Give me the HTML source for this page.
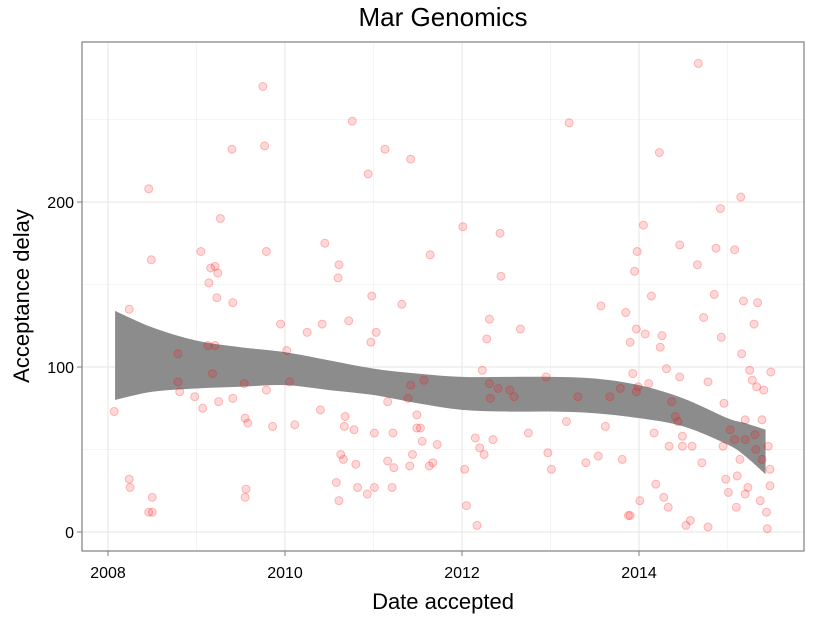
<!DOCTYPE html>
<html><head><meta charset="utf-8"><style>
html,body{margin:0;padding:0;background:#fff;}
svg{display:block;font-family:"Liberation Sans",sans-serif;}
</style></head><body>
<svg id="chart" width="825" height="618">
<rect x="0" y="0" width="825" height="618" fill="#fff"/>
<text x="443" y="26" text-anchor="middle" font-size="26" fill="#000">Mar Genomics</text>
<g id="grid"></g>
<g id="band"></g>
<g id="points"></g>
<rect x="82" y="42" width="722" height="509" fill="none" stroke="#7f7f7f" stroke-width="1.2"/>
<g id="axes"></g>
<text x="443" y="609" text-anchor="middle" font-size="22">Date accepted</text>
<text x="0" y="0" transform="translate(29,296) rotate(-90)" text-anchor="middle" font-size="22">Acceptance delay</text>
</svg>
<script>
const xTicks=[2008,2010,2012,2014];
const xMinor=[2009,2011,2013,2015];
const yTicks=[0,100,200];
const yMinor=[50,150,250];
const bandX=[2008.08,2008.5,2009,2009.5,2010,2010.5,2011,2011.5,2012,2012.5,2013,2013.5,2014,2014.5,2015,2015.2,2015.43];
const bandUpper=[134,124,116,112,109,104,99,96,94,94,94,93,89,81,69,66,62];
const bandLower=[80,85,87,88,89,86,83,78,74,73,73,72,69,64,53,46,35];
const ptYear=[2008.07,2008.24,2008.25,2008.24,2008.46,2008.49,2008.46,2008.5,2008.5,2008.79,2008.79,2008.81,2009.05,2009.07,2008.98,2009.14,2009.16,2009.21,2009.24,2009.23,2009.27,2009.13,2009.21,2009.25,2009.18,2009.4,2009.41,2009.41,2009.54,2009.55,2009.56,2009.55,2009.58,2009.75,2009.77,2009.79,2009.79,2009.86,2009.95,2010.02,2010.05,2010.11,2010.25,2010.4,2010.42,2010.45,2010.58,2010.61,2010.61,2010.6,2010.63,2010.66,2010.68,2010.67,2010.76,2010.72,2010.78,2010.8,2010.82,2010.93,2011.01,2010.94,2010.97,2010.98,2011.03,2011.01,2011.13,2011.16,2011.16,2011.22,2011.23,2011.21,2011.32,2011.39,2011.42,2011.41,2011.42,2011.44,2011.49,2011.49,2011.53,2011.55,2011.57,2011.63,2011.64,2011.67,2011.72,2012.01,2012.03,2012.05,2012.15,2012.17,2012.2,2012.23,2012.25,2012.28,2012.31,2012.31,2012.32,2012.35,2012.43,2012.44,2012.41,2012.54,2012.59,2012.66,2012.75,2012.95,2012.97,2013.01,2013.21,2013.18,2013.31,2013.4,2013.54,2013.57,2013.62,2013.67,2013.79,2013.81,2013.85,2013.88,2013.9,2013.9,2013.93,2013.95,2013.97,2013.98,2013.97,2013.99,2014.01,2014.05,2014.07,2014.11,2014.14,2014.17,2014.19,2014.23,2014.24,2014.26,2014.28,2014.31,2014.33,2014.34,2014.37,2014.41,2014.44,2014.46,2014.49,2014.46,2014.49,2014.53,2014.58,2014.6,2014.66,2014.67,2014.71,2014.73,2014.78,2014.78,2014.85,2014.87,2014.92,2014.93,2014.95,2014.96,2014.98,2015.01,2015.08,2015.11,2015.16,2015.1,2015.15,2015.18,2015.2,2015.2,2015.23,2015.25,2015.28,2015.3,2015.32,2015.33,2015.34,2015.37,2015.39,2015.39,2015.41,2015.44,2015.45,2015.46,2015.48,2015.49,2015.48,2015.08,2015.14,2015.03,2015.2,2015.31];
const ptDelay=[73,32,27,135,208,165,12,12,21,108,91,85,170,75,82,151,160,161,157,142,190,113,113,79,96,232,139,81,90,69,26,21,66,270,234,170,86,64,126,110,91,65,121,74,126,175,30,19,162,154,47,44,70,64,249,128,62,41,27,23,27,217,115,143,121,60,232,79,43,60,39,27,138,81,226,40,89,47,71,63,63,55,92,40,168,42,53,185,38,16,57,4,51,98,47,117,129,90,81,56,181,155,87,86,82,123,60,94,48,38,248,67,82,42,46,137,64,82,87,44,133,10,10,115,96,158,123,170,85,88,19,186,120,90,143,60,29,230,112,119,21,99,15,52,79,70,67,174,58,94,52,4,7,52,162,284,42,130,3,91,144,172,196,118,52,78,32,24,171,34,108,15,203,140,68,23,27,98,92,126,50,88,139,19,44,68,86,12,2,52,38,97,28,56,44,62,56,59];

const NS='http://www.w3.org/2000/svg';
function xS(v){return 108+(v-2008)*88.5;}
function yS(v){return 532-v*1.65;}
function mk(tag,attrs,parent){const e=document.createElementNS(NS,tag);for(const k in attrs)e.setAttribute(k,attrs[k]);parent.appendChild(e);return e;}
function spline(pts,start){
  let d=start?('M'+pts[0][0]+','+pts[0][1]):('L'+pts[0][0]+','+pts[0][1]);
  for(let i=0;i<pts.length-1;i++){
    const p0=pts[Math.max(i-1,0)],p1=pts[i],p2=pts[i+1],p3=pts[Math.min(i+2,pts.length-1)];
    const c1=[p1[0]+(p2[0]-p0[0])/6,p1[1]+(p2[1]-p0[1])/6];
    const c2=[p2[0]-(p3[0]-p1[0])/6,p2[1]-(p3[1]-p1[1])/6];
    d+='C'+c1[0]+','+c1[1]+' '+c2[0]+','+c2[1]+' '+p2[0]+','+p2[1];
  }
  return d;
}
const grid=document.getElementById('grid'),axes=document.getElementById('axes');
xMinor.forEach(v=>{const l=mk('line',{x1:xS(v),x2:xS(v),y1:42,y2:551,stroke:'#f2f2f2','stroke-width':0.8},grid);

});
yMinor.forEach(v=>{const l=mk('line',{x1:82,x2:804,y1:yS(v),y2:yS(v),stroke:'#f2f2f2','stroke-width':0.8},grid);

});
xTicks.forEach(v=>{const l=mk('line',{x1:xS(v),x2:xS(v),y1:42,y2:551,stroke:'#e5e5e5','stroke-width':1},grid);


const t=mk('line',{x1:xS(v),x2:xS(v),y1:551,y2:556,stroke:'#7f7f7f'},axes);


const tx=mk('text',{x:xS(v),y:578,'text-anchor':'middle','font-size':16,fill:'#000'},axes);tx.textContent=v;

});
yTicks.forEach(v=>{const l=mk('line',{x1:82,x2:804,y1:yS(v),y2:yS(v),stroke:'#e5e5e5','stroke-width':1},grid);


const t=mk('line',{x1:77,x2:82,y1:yS(v),y2:yS(v),stroke:'#7f7f7f'},axes);


const tx=mk('text',{x:74,y:yS(v)+6,'text-anchor':'end','font-size':16,fill:'#000'},axes);tx.textContent=v;

});
const up=bandX.map((v,i)=>[xS(v),yS(bandUpper[i])]);
const lo=bandX.map((v,i)=>[xS(v),yS(bandLower[i])]).reverse();
const d=spline(up,true)+spline(lo,false)+'Z';
const band=mk('path',{d:d,fill:'#8c8c8c'},document.getElementById('band'));


const pg=document.getElementById('points');
ptYear.forEach((v,i)=>{const c=mk('circle',{cx:xS(v),cy:yS(ptDelay[i]),r:4,fill:'rgba(255,0,0,0.15)',stroke:'rgba(255,0,0,0.25)','stroke-width':1},pg);

});
</script>
</body></html>
